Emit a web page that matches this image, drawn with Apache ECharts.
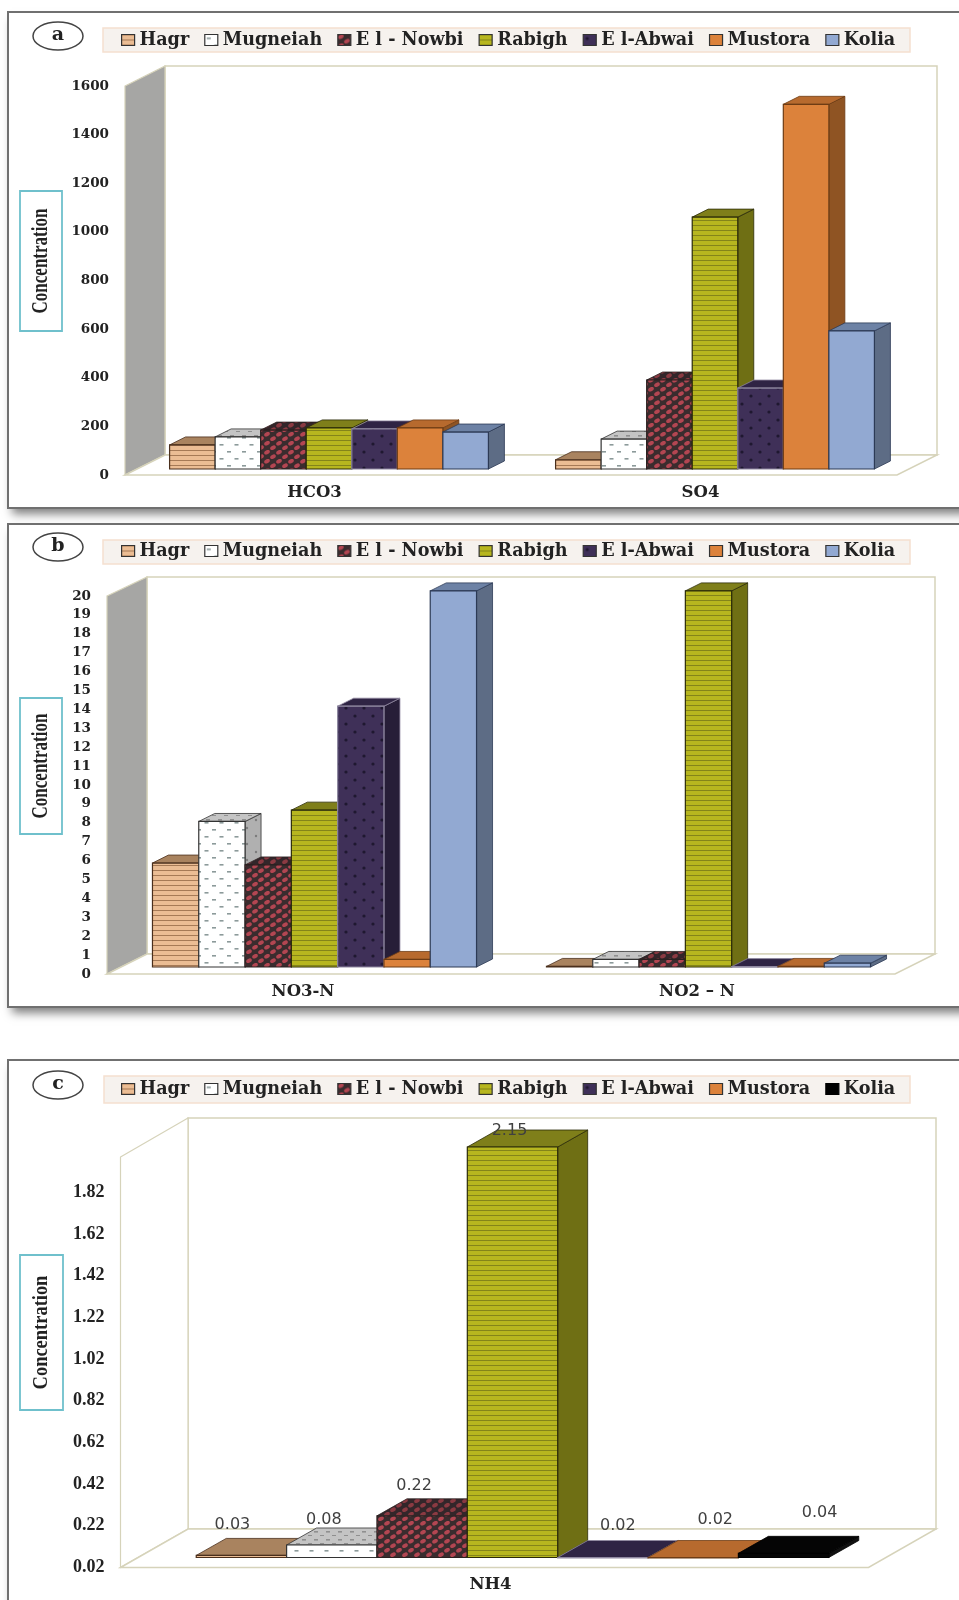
<!DOCTYPE html>
<html>
<head>
<meta charset="utf-8">
<script src="https://cdn.jsdelivr.net/npm/echarts@6/dist/echarts.min.js"></script>
<style>html,body{margin:0;padding:0;background:#fff}#c{width:959px;height:1600px}</style>
</head>
<body>
<div id="c"></div>
<script>
// ---- data ----
const sites = ['Hagr', 'Mugneiah', 'E l - Nowbi', 'Rabigh', 'E l-Abwai', 'Mustora', 'Kolia'];
const categoriesA = ['HCO3', 'SO4'];
const categoriesB = ['NO3-N', 'NO2 – N'];
const categoriesC = ['NH4'];
const hco3 = [99, 132, 160, 169, 165, 169, 152];
const so4 = [38, 123, 366, 1036, 333, 1500, 568];
const no3n = [5.5, 7.7, 5.4, 8.3, 13.8, 0.4, 19.9];
const no2n = [0.03, 0.4, 0.4, 19.9, 0.02, 0.03, 0.2];
const nh4 = [0.03, 0.08, 0.22, 2.15, 0.02, 0.02, 0.04];
const ticksC = [0.02, 0.22, 0.42, 0.62, 0.82, 1.02, 1.22, 1.42, 1.62, 1.82];

// ---- fills ----
function pat(w, h, bg, draw) {
  const c = document.createElement('canvas');
  c.width = w; c.height = h;
  const x = c.getContext('2d');
  x.fillStyle = bg; x.fillRect(0, 0, w, h);
  draw(x);
  return { image: c, repeat: 'repeat' };
}
function stripes(bg, line, gap, lw) {
  return pat(4, gap, bg, x => { x.fillStyle = line; x.fillRect(0, 0, 4, lw); });
}
function dashes(bg, col, w, h) {
  return pat(w, h, bg, x => {
    x.fillStyle = col;
    x.fillRect(2, 3, 4, 1.6);
    x.fillRect(2 + w / 2, 3 + h / 2, 4, 1.6);
  });
}
function spots(bg, col) {
  return pat(12, 9, bg, x => {
    x.fillStyle = col;
    [[3, 2.2], [9, 6.7]].forEach(p => { x.beginPath(); x.ellipse(p[0], p[1], 3, 2, -0.5, 0, 7); x.fill(); });
  });
}
function dots(bg, col, r) {
  return pat(18, 16, bg, x => {
    x.fillStyle = col;
    [[4, 4], [13, 12]].forEach(p => { x.beginPath(); x.arc(p[0], p[1], r, 0, 7); x.fill(); });
  });
}
const fillsFront = [
  stripes('#ebbd94', '#a67a56', 5, 1),
  dashes('#ffffff', '#8c9a9a', 15, 14),
  spots('#3a2c2e', '#b34652'),
  stripes('#b7b61f', '#84841a', 5, 1),
  dots('#3f3058', '#1f1830', 1.6),
  '#dc823b',
  '#92a9d2'
];
const fillsTop = ['#a9835f', dashes('#c4c4c4', '#8f8f8f', 12, 8), spots('#33262a', '#8b3a42'), '#7f7f1a', '#2f2444', '#b76a2e', '#6d82a5'];
const fillsSide = ['#8a6a4a', dots('#b0b0b0', '#7c7c7c', 1.2), spots('#2c2024', '#7c343c'), '#6f6f14', '#271e38', '#8f5423', '#5d6c85'];
const edge = ['#4a2f1c', '#333333', '#2b2020', '#2c2c08', '#8f88a0', '#6e3c14', '#2c3a55'];
const blackFront = '#050505';
const nudgeC = [[-9, -31], [-8, -25], [-8, -30], [-3, -16], [15, -32], [22, -38], [36, -40]];

// ---- three panels ----
const panels = [
  { letter: 'a', top: 12, h: 496, cats: categoriesA, vals: [hco3, so4], min: 0, max: 1600, interval: 200,
    L: 125, B: 475, T: 86, R: 897, backX: 165, backT: 66, backB: 455, backR: 937, wall: '#a6a6a4',
    ox: 11, oy: -6, ratio: 0.118, dx: 16, dy: 8, box: [20, 191, 42, 140], labelSize: 13.5, catPad: 7,
    font: 'DejaVu Serif', legendY: 41, legendBox: [103, 28, 807, 24], circleY: 36 },
  { letter: 'b', top: 524, h: 483, cats: categoriesB, vals: [no3n, no2n], min: 0, max: 20, interval: 1,
    L: 107, B: 974, T: 596, R: 895, backX: 147, backT: 577, backB: 954, backR: 935, wall: '#a6a6a4',
    ox: 10.5, oy: -7, ratio: 0.1175, dx: 16, dy: 8, box: [20, 698, 42, 136], labelSize: 13.5, catPad: 2,
    font: 'DejaVu Serif', legendY: 552, legendBox: [103, 540, 807, 24], circleY: 547 },
  { letter: 'c', top: 1060, h: 700, cats: categoriesC, vals: [nh4], min: 0.02, max: 1.99, custom: ticksC,
    L: 120.5, B: 1567.5, T: 1157, R: 868.5, backX: 188, backT: 1118, backB: 1529, backR: 936, wall: '#ffffff',
    ox: 18, oy: -10, ratio: 0.1208, dx: 30, dy: 17, box: [20, 1255, 43, 155], labelSize: 18, catPad: 8,
    font: 'Liberation Serif', legendY: 1090, legendBox: [104, 1076, 806, 27], circleY: 1085, blackLast: true, labels: true }
];

const grids = [], xAxes = [], yAxes = [], series = [], legends = [], graphics = [];
const LINE = '#d6d3ba';

panels.forEach((p, pi) => {
  grids.push({ left: p.L, top: p.T, width: p.R - p.L, height: p.B - p.T });
  xAxes.push({
    type: 'category', gridIndex: pi, data: p.cats,
    axisLine: { show: false }, axisTick: { show: false }, splitLine: { show: false },
    axisLabel: { margin: 9, fontFamily: 'DejaVu Serif', fontWeight: 'bold', fontSize: 16.5, color: '#222', padding: [0, p.catPad, 0, 0] }
  });
  const y = {
    type: 'value', gridIndex: pi, min: p.min, max: p.max,
    axisLine: { show: false }, axisTick: { show: false }, splitLine: { show: false },
    axisLabel: { margin: 16, fontFamily: p.font, fontWeight: 'bold', fontSize: p.labelSize, color: '#222',
      formatter: v => String(v) }
  };
  if (p.interval) y.interval = p.interval;
  if (p.custom) {
    y.axisLabel.customValues = p.custom;
    y.axisLabel.formatter = v => v.toFixed(2);
  }
  yAxes.push(y);

  sites.forEach((name, i) => {
    const isBlack = p.blackLast && i === 6;
    const front = isBlack ? blackFront : fillsFront[i];
    const top = isBlack ? blackFront : fillsTop[i];
    const side = isBlack ? '#111' : fillsSide[i];
    const stroke = isBlack ? '#000' : edge[i];
    series.push({
      type: 'custom', name, xAxisIndex: pi, yAxisIndex: pi, z: 5 + i,
      coordinateSystem: 'cartesian2d', clip: false, silent: true,
      encode: { x: 0, y: 1 },
      itemStyle: { color: '#888' },
      data: p.vals.map((v, k) => [k, v[i]]),
      renderItem(params, api) {
        const k = api.value(0), v = api.value(1);
        const t = api.coord([k, Math.min(v, p.max)]);
        const b = api.coord([k, p.min]);
        const bw = api.size([1, 0])[0] * p.ratio;
        const x0 = t[0] + p.ox + (i - 3.5) * bw, x1 = x0 + bw;
        const yt = t[1] + p.oy, yb = b[1] + p.oy;
        const dx = p.dx, dy = p.dy;
        const kids = [
          { type: 'polygon', shape: { points: [[x1, yt], [x1 + dx, yt - dy], [x1 + dx, yb - dy], [x1, yb]] },
            style: { fill: side, stroke: stroke, lineWidth: 0.8 } },
          { type: 'polygon', shape: { points: [[x0, yt], [x0 + dx, yt - dy], [x1 + dx, yt - dy], [x1, yt]] },
            style: { fill: top, stroke: stroke, lineWidth: 0.8 } },
          { type: 'rect', shape: { x: x0, y: yt, width: bw, height: Math.max(yb - yt, 0.5) },
            style: { fill: front, stroke: stroke, lineWidth: 1.2 } }
        ];
        if (p.labels) {
          kids.push({ type: 'text', z2: 50, style: {
            text: v.toFixed(2), x: (x0 + x1) / 2 + nudgeC[i][0], y: yt + nudgeC[i][1],
            align: 'center', verticalAlign: 'middle', font: '16px "DejaVu Sans"', fill: '#404040' } });
        }
        return { type: 'group', children: kids };
      }
    });
  });

  legends.push({
    show: true, orient: 'horizontal', selectedMode: false,
    left: 121, top: p.legendY - 10, height: 20, padding: 0, itemGap: 15, itemWidth: 13, itemHeight: 11,
    icon: 'rect', z: 6,
    textStyle: { fontFamily: 'DejaVu Serif', fontWeight: 'bold', fontSize: 17.6, color: '#222' },
    data: sites.map((name, i) => {
      const black = p.blackLast && i === 6;
      return { name, icon: 'rect', itemStyle: { color: black ? '#000' : fillsFront[i], borderColor: black ? '#000' : '#333', borderWidth: 1.2 } };
    })
  });

  // frame, walls, badges
  graphics.push({ type: 'rect', z: 0, shape: { x: 9, y: p.top + 1, width: 1000, height: p.h - 2 },
    style: { fill: '#fff', shadowBlur: 9, shadowColor: 'rgba(0,0,0,.5)', shadowOffsetX: 3, shadowOffsetY: 7 } });
  graphics.push({ type: 'rect', z: 0, shape: { x: 8, y: p.top, width: 1000, height: p.h },
    style: { fill: '#fff', stroke: '#707070', lineWidth: 2 } });
  graphics.push({ type: 'rect', z: 1, shape: { x: p.legendBox[0], y: p.legendBox[1], width: p.legendBox[2], height: p.legendBox[3] },
    style: { fill: '#f6f2ee', stroke: '#f5e0d0', lineWidth: 1.5 } });
  graphics.push({ type: 'rect', z: 1, shape: { x: p.backX, y: p.backT, width: p.backR - p.backX, height: p.backB - p.backT },
    style: { fill: '#fff', stroke: LINE, lineWidth: 1.5 } });
  graphics.push({ type: 'polygon', z: 1, shape: { points: [[p.L, p.T], [p.backX, p.backT], [p.backX, p.backB], [p.L, p.B]] },
    style: { fill: p.wall, stroke: LINE, lineWidth: 1.2 } });
  graphics.push({ type: 'polygon', z: 1, shape: { points: [[p.L, p.B], [p.backX, p.backB], [p.backR, p.backB], [p.R, p.B]] },
    style: { fill: '#fff', stroke: LINE, lineWidth: 1.5 } });
  graphics.push({ type: 'ellipse', z: 2, shape: { cx: 58, cy: p.circleY, rx: 25, ry: 14 },
    style: { fill: '#fff', stroke: '#444', lineWidth: 1.5 } });
  graphics.push({ type: 'text', z: 3, x: 58, y: p.circleY - 1, style: { text: p.letter, align: 'center', verticalAlign: 'middle',
    font: 'bold 19px "DejaVu Serif"', fill: '#222' } });
  const bx = p.box;
  graphics.push({ type: 'rect', z: 2, shape: { x: bx[0], y: bx[1], width: bx[2], height: bx[3] },
    style: { fill: '#fff', stroke: '#6fc0cc', lineWidth: 1.8 } });
  graphics.push({ type: 'text', z: 3, x: bx[0] + bx[2] / 2, y: bx[1] + bx[3] / 2, rotation: Math.PI / 2,
    scaleX: p.letter === 'c' ? 0.9 : 0.74,
    style: { text: 'Concentration', align: 'center', verticalAlign: 'middle',
      font: 'bold ' + (p.letter === 'c' ? 20.5 : 23) + 'px "Liberation Serif"', fill: '#222' } });
});

const chart = echarts.init(document.getElementById('c'), null, { renderer: 'canvas', width: 959, height: 1600 });
chart.setOption({
  animation: false, backgroundColor: '#fff',
  grid: grids, xAxis: xAxes, yAxis: yAxes, series, legend: legends,
  graphic: { elements: graphics }
});
</script>
</body>
</html>
